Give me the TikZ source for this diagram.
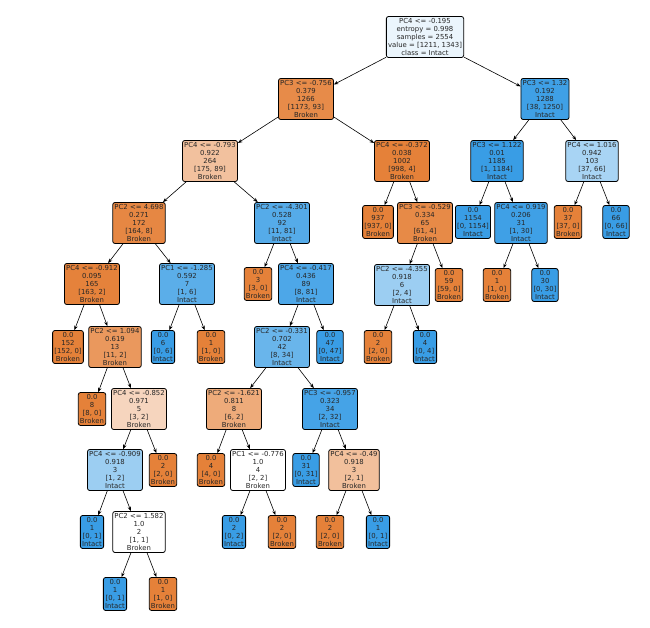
\documentclass[tikz,border=0pt]{standalone}
\usepackage{fontspec}
\setmainfont{DejaVu Sans}
\usetikzlibrary{arrows.meta}
\definecolor{cbrk}{HTML}{E58139}
\definecolor{cint}{HTML}{399DE5}
\tikzset{
  tn/.style={draw=black, line width=0.8pt, rounded corners=2.2pt, align=center,
    inner sep=1.7pt, font=\fontsize{6.9}{8.1}\selectfont, text=black!85},
  ed/.style={-{Stealth[length=4.5pt,width=3.5pt]}, line width=0.6pt, black}
}
\begin{document}
\begin{tikzpicture}[x=1pt,y=-1pt]
\useasboundingbox (0,0) rectangle (650,628);
\node[tn,fill=cint!10!white] (n0) at (425,37) {PC4 <= -0.195\\entropy = 0.998\\samples = 2554\\value = [1211, 1343]\\class = Intact};
\node[tn,fill=cbrk!92!white] (n1) at (306,99) {PC3 <= -0.756\\0.379\\1266\\{[1173, 93]}\\Broken};
\node[tn,fill=cbrk!49!white] (n2) at (210,161) {PC4 <= -0.793\\0.922\\264\\{[175, 89]}\\Broken};
\node[tn,fill=cbrk!95!white] (n3) at (139,223) {PC2 <= 4.698\\0.271\\172\\{[164, 8]}\\Broken};
\node[tn,fill=cbrk!99!white] (n4) at (92,284) {PC4 <= -0.912\\0.095\\165\\{[163, 2]}\\Broken};
\node[tn,fill=cbrk] (n5) at (68,347) {0.0\\152\\{[152, 0]}\\Broken};
\node[tn,fill=cbrk!82!white] (n6) at (115,347) {PC2 <= 1.094\\0.619\\13\\{[11, 2]}\\Broken};
\node[tn,fill=cbrk] (n7) at (92,409) {0.0\\8\\{[8, 0]}\\Broken};
\node[tn,fill=cbrk!33!white] (n8) at (139,409) {PC4 <= -0.852\\0.971\\5\\{[3, 2]}\\Broken};
\node[tn,fill=cint!50!white] (n9) at (115,470) {PC4 <= -0.909\\0.918\\3\\{[1, 2]}\\Intact};
\node[tn,fill=cint] (n10) at (92,532) {0.0\\1\\{[0, 1]}\\Intact};
\node[tn,fill=white] (n11) at (139,532) {PC2 <= 1.582\\1.0\\2\\{[1, 1]}\\Broken};
\node[tn,fill=cint] (n12) at (115,594) {0.0\\1\\{[0, 1]}\\Intact};
\node[tn,fill=cbrk] (n13) at (163,594) {0.0\\1\\{[1, 0]}\\Broken};
\node[tn,fill=cbrk] (n14) at (163,470) {0.0\\2\\{[2, 0]}\\Broken};
\node[tn,fill=cint!83!white] (n15) at (187,284) {PC1 <= -1.285\\0.592\\7\\{[1, 6]}\\Intact};
\node[tn,fill=cint] (n16) at (163,347) {0.0\\6\\{[0, 6]}\\Intact};
\node[tn,fill=cbrk] (n17) at (211,347) {0.0\\1\\{[1, 0]}\\Broken};
\node[tn,fill=cint!86!white] (n18) at (282,223) {PC2 <= -4.301\\0.528\\92\\{[11, 81]}\\Intact};
\node[tn,fill=cbrk] (n19) at (258,284) {0.0\\3\\{[3, 0]}\\Broken};
\node[tn,fill=cint!90!white] (n20) at (306,284) {PC4 <= -0.417\\0.436\\89\\{[8, 81]}\\Intact};
\node[tn,fill=cint!76!white] (n21) at (282,347) {PC2 <= -0.331\\0.702\\42\\{[8, 34]}\\Intact};
\node[tn,fill=cbrk!67!white] (n22) at (234,409) {PC2 <= -1.621\\0.811\\8\\{[6, 2]}\\Broken};
\node[tn,fill=cbrk] (n23) at (211,470) {0.0\\4\\{[4, 0]}\\Broken};
\node[tn,fill=white] (n24) at (258,470) {PC1 <= -0.776\\1.0\\4\\{[2, 2]}\\Broken};
\node[tn,fill=cint] (n25) at (234,532) {0.0\\2\\{[0, 2]}\\Intact};
\node[tn,fill=cbrk] (n26) at (282,532) {0.0\\2\\{[2, 0]}\\Broken};
\node[tn,fill=cint!94!white] (n27) at (330,409) {PC3 <= -0.957\\0.323\\34\\{[2, 32]}\\Intact};
\node[tn,fill=cint] (n28) at (306,470) {0.0\\31\\{[0, 31]}\\Intact};
\node[tn,fill=cbrk!50!white] (n29) at (354,470) {PC4 <= -0.49\\0.918\\3\\{[2, 1]}\\Broken};
\node[tn,fill=cbrk] (n30) at (330,532) {0.0\\2\\{[2, 0]}\\Broken};
\node[tn,fill=cint] (n31) at (378,532) {0.0\\1\\{[0, 1]}\\Intact};
\node[tn,fill=cint] (n32) at (330,347) {0.0\\47\\{[0, 47]}\\Intact};
\node[tn,fill=cbrk] (n33) at (402,161) {PC4 <= -0.372\\0.038\\1002\\{[998, 4]}\\Broken};
\node[tn,fill=cbrk] (n34) at (378,222) {0.0\\937\\{[937, 0]}\\Broken};
\node[tn,fill=cbrk!93!white] (n35) at (425,223) {PC3 <= -0.529\\0.334\\65\\{[61, 4]}\\Broken};
\node[tn,fill=cint!50!white] (n36) at (402,285) {PC2 <= -4.355\\0.918\\6\\{[2, 4]}\\Intact};
\node[tn,fill=cbrk] (n37) at (378,347) {0.0\\2\\{[2, 0]}\\Broken};
\node[tn,fill=cint] (n38) at (425,347) {0.0\\4\\{[0, 4]}\\Intact};
\node[tn,fill=cbrk] (n39) at (449,285) {0.0\\59\\{[59, 0]}\\Broken};
\node[tn,fill=cint!97!white] (n40) at (545,99) {PC3 <= 1.32\\0.192\\1288\\{[38, 1250]}\\Intact};
\node[tn,fill=cint] (n41) at (497,161) {PC3 <= 1.122\\0.01\\1185\\{[1, 1184]}\\Intact};
\node[tn,fill=cint] (n42) at (473,222) {0.0\\1154\\{[0, 1154]}\\Intact};
\node[tn,fill=cint!97!white] (n43) at (521,223) {PC4 <= 0.919\\0.206\\31\\{[1, 30]}\\Intact};
\node[tn,fill=cbrk] (n44) at (497,285) {0.0\\1\\{[1, 0]}\\Broken};
\node[tn,fill=cint] (n45) at (545,285) {0.0\\30\\{[0, 30]}\\Intact};
\node[tn,fill=cint!44!white] (n46) at (592,161) {PC4 <= 1.016\\0.942\\103\\{[37, 66]}\\Intact};
\node[tn,fill=cbrk] (n47) at (568,222) {0.0\\37\\{[37, 0]}\\Broken};
\node[tn,fill=cint] (n48) at (616,222) {0.0\\66\\{[0, 66]}\\Intact};
\foreach \a/\b in {n0/n1,n0/n40,n1/n2,n1/n33,n2/n3,n2/n18,n3/n4,n3/n15,n4/n5,n4/n6,
  n6/n7,n6/n8,n8/n9,n8/n14,n9/n10,n9/n11,n11/n12,n11/n13,n15/n16,n15/n17,
  n18/n19,n18/n20,n20/n21,n20/n32,n21/n22,n21/n27,n22/n23,n22/n24,n24/n25,n24/n26,
  n27/n28,n27/n29,n29/n30,n29/n31,n33/n34,n33/n35,n35/n36,n35/n39,n36/n37,n36/n38,
  n40/n41,n40/n46,n41/n42,n41/n43,n43/n44,n43/n45,n46/n47,n46/n48}
  \draw[ed] (\a) -- (\b);
\end{tikzpicture}
\end{document}
